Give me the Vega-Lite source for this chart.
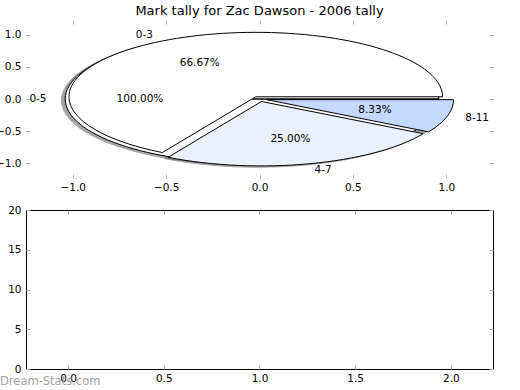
{
  "$schema": "https://vega.github.io/schema/vega-lite/v6.json",
  "padding": {"left": -5, "top": 4, "right": 27, "bottom": 2},
  "config": {
    "font": "DejaVu Sans",
    "view": {"stroke": null},
    "axis": {"labelFont": "DejaVu Sans", "labelFontSize": 10.5, "labelColor": "#000000", "tickColor": "#b4b4b4", "tickSize": -4, "tickWidth": 1, "domain": false, "grid": false, "title": null, "labelPadding": 8},
    "title": {"font": "DejaVu Sans", "fontSize": 13, "fontWeight": "normal", "color": "#000000"}
  },
  "datasets": {
    "wedges": [
      {"pie": "A", "bin": "0-5", "frac": 1.0, "cx": -0.04, "cy": 0, "lx": -1.14, "ly": 0, "px": -0.64, "py": 0},
      {"pie": "B", "bin": "0-3", "frac": 0.6667, "cx": -0.02, "cy": 0.0346, "lx": -0.57, "ly": 0.9873, "px": -0.32, "py": 0.5543},
      {"pie": "B", "bin": "4-7", "frac": 0.25, "cx": 0.0104, "cy": -0.0386, "lx": 0.2951, "ly": -1.1012, "px": 0.1656, "py": -0.6182},
      {"pie": "B", "bin": "8-11", "frac": 0.0833, "cx": 0.0386, "cy": -0.0104, "lx": 1.1012, "ly": -0.2951, "px": 0.6182, "py": -0.1656}
    ]
  },
  "spacing": 10,
  "vconcat": [
    {
      "width": 467,
      "height": 158,
      "title": {"text": "Mark tally for Zac Dawson - 2006 tally", "anchor": "middle", "frame": "group", "offset": -8, "baseline": "alphabetic"},
      "data": {"name": "wedges"},
      "layer": [
        {
          "mark": {"type": "point", "filled": true, "fill": "#4d4d4d", "stroke": "#4d4d4d", "strokeWidth": 1, "opacity": 0.5, "xOffset": -3.74, "yOffset": 1.29},
          "encoding": {
            "x": {"field": "cx", "type": "quantitative", "scale": {"domain": [-1.25, 1.25], "nice": false, "zero": false}, "axis": {"values": [-1, -0.5, 0, 0.5, 1], "format": ".1f", "minExtent": 16, "maxExtent": 16}},
            "y": {"field": "cy", "type": "quantitative", "scale": {"domain": [-1.225, 1.225], "nice": false, "zero": false}, "axis": {"values": [-1, -0.5, 0, 0.5, 1], "format": ".1f", "minExtent": 26, "maxExtent": 26, "labelPadding": 9}},
            "shape": {"field": "bin", "type": "nominal", "scale": {"domain": ["0-5", "0-3", "4-7", "8-11"], "range": ["M0,0L1,0A1,0.3449,0,1,0,-1,0A1,0.3449,0,1,0,1,0Z", "M0,0L1,0A1,0.3449,0,1,0,-0.5,0.2987Z", "M0,0L-0.5,0.2987A1,0.3449,0,0,0,0.866,0.1724Z", "M0,0L0.866,0.1724A1,0.3449,0,0,0,1,0Z"]}, "legend": null},
            "size": {"value": 139577}
          }
        },
        {
          "mark": {"type": "point", "filled": true, "stroke": "#000000", "strokeWidth": 1, "opacity": 1},
          "encoding": {
            "x": {"field": "cx", "type": "quantitative", "scale": {"domain": [-1.25, 1.25], "nice": false, "zero": false}, "axis": null},
            "y": {"field": "cy", "type": "quantitative", "scale": {"domain": [-1.225, 1.225], "nice": false, "zero": false}, "axis": null},
            "shape": {"field": "bin", "type": "nominal", "scale": {"domain": ["0-5", "0-3", "4-7", "8-11"], "range": ["M0,0L1,0A1,0.3449,0,1,0,-1,0A1,0.3449,0,1,0,1,0Z", "M0,0L1,0A1,0.3449,0,1,0,-0.5,0.2987Z", "M0,0L-0.5,0.2987A1,0.3449,0,0,0,0.866,0.1724Z", "M0,0L0.866,0.1724A1,0.3449,0,0,0,1,0Z"]}, "legend": null},
            "color": {"field": "bin", "type": "nominal", "scale": {"domain": ["0-5", "0-3", "4-7", "8-11"], "range": ["#ffffff", "#ffffff", "#eaf1fd", "#c5d8fd"]}, "legend": null},
            "size": {"value": 139577}
          }
        },
        {
          "transform": [{"filter": "datum.lx < 0"}],
          "mark": {"type": "text", "align": "right", "baseline": "middle", "fontSize": 10.5, "color": "#000000"},
          "encoding": {
            "x": {"field": "lx", "type": "quantitative", "scale": {"domain": [-1.25, 1.25], "nice": false, "zero": false}, "axis": null},
            "y": {"field": "ly", "type": "quantitative", "scale": {"domain": [-1.225, 1.225], "nice": false, "zero": false}, "axis": null},
            "text": {"field": "bin"}
          }
        },
        {
          "transform": [{"filter": "datum.lx > 0"}],
          "mark": {"type": "text", "align": "left", "baseline": "middle", "fontSize": 10.5, "color": "#000000"},
          "encoding": {
            "x": {"field": "lx", "type": "quantitative", "scale": {"domain": [-1.25, 1.25], "nice": false, "zero": false}, "axis": null},
            "y": {"field": "ly", "type": "quantitative", "scale": {"domain": [-1.225, 1.225], "nice": false, "zero": false}, "axis": null},
            "text": {"field": "bin"}
          }
        },
        {
          "mark": {"type": "text", "align": "center", "baseline": "middle", "fontSize": 10.5, "color": "#000000"},
          "encoding": {
            "x": {"field": "px", "type": "quantitative", "scale": {"domain": [-1.25, 1.25], "nice": false, "zero": false}, "axis": {"orient": "top", "labels": false, "values": [-1, -0.5, 0, 0.5, 1]}},
            "y": {"field": "py", "type": "quantitative", "scale": {"domain": [-1.225, 1.225], "nice": false, "zero": false}, "axis": {"orient": "right", "labels": false, "values": [-1, -0.5, 0, 0.5, 1]}},
            "text": {"field": "frac", "format": ".2%"}
          }
        }
      ],
      "resolve": {"axis": {"x": "independent", "y": "independent"}}
    },
    {
      "width": 467,
      "height": 159,
      "view": {"stroke": "#000000", "strokeWidth": 1},
      "title": {"text": "Dream-Stats.com", "orient": "bottom", "anchor": "start", "frame": "bounds", "offset": 0, "fontSize": 11.5, "color": "#a0a0a0", "baseline": "alphabetic"},
      "data": {"values": []},
      "layer": [
        {
          "mark": {"type": "point", "opacity": 0},
          "encoding": {
            "x": {"field": "x", "type": "quantitative", "scale": {"domain": [-0.22, 2.22], "nice": false, "zero": false}, "axis": {"values": [0, 0.5, 1, 1.5, 2], "format": ".1f", "minExtent": 16, "maxExtent": 16}},
            "y": {"field": "y", "type": "quantitative", "scale": {"domain": [0, 20], "nice": false, "zero": false}, "axis": {"values": [0, 5, 10, 15, 20], "format": "d", "minExtent": 26, "maxExtent": 26, "labelPadding": 9}}
          }
        },
        {
          "mark": {"type": "point", "opacity": 0},
          "encoding": {
            "x": {"field": "x", "type": "quantitative", "scale": {"domain": [-0.22, 2.22], "nice": false, "zero": false}, "axis": {"orient": "top", "labels": false, "values": [0, 0.5, 1, 1.5, 2]}},
            "y": {"field": "y", "type": "quantitative", "scale": {"domain": [0, 20], "nice": false, "zero": false}, "axis": {"orient": "right", "labels": false, "values": [0, 5, 10, 15, 20]}}
          }
        }
      ],
      "resolve": {"axis": {"x": "independent", "y": "independent"}}
    }
  ]
}
